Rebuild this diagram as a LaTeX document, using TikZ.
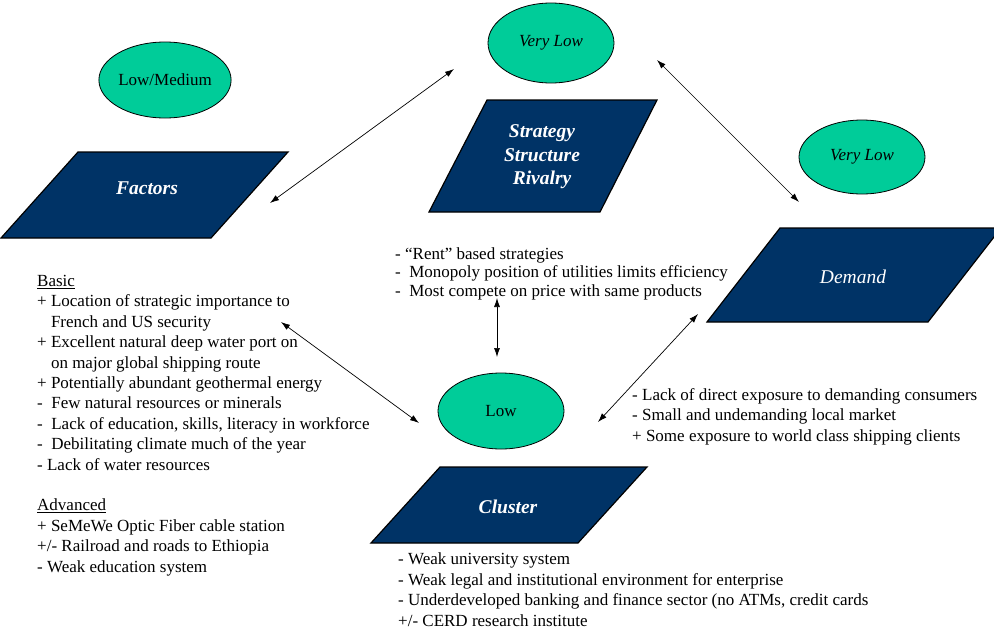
\documentclass[tikz,border=0pt]{standalone}
\usepackage{fontspec}
\setmainfont{Liberation Serif}
\usetikzlibrary{shapes.geometric,arrows.meta}
\definecolor{navy}{RGB}{0,51,102}
\definecolor{jade}{RGB}{0,204,153}

\begin{document}
\begin{tikzpicture}
      [x=1pt, y=-1pt,
       rating/.style={ellipse, draw, fill=jade, line width=0.8pt, minimum width=126pt,
         minimum height=76pt, inner sep=0pt, font=\fontsize{17}{20.4}\selectfont},
       sector/.style={draw, fill=navy, line width=1.2pt},
       heading/.style={text=white, align=center, font=\fontsize{19.5}{23.5}\selectfont\bfseries\itshape},
       points/.style={anchor=base west, align=left, inner sep=0pt, font=\fontsize{17}{20.4}\selectfont},
       link/.style={{Latex[length=9pt,width=6pt]}-{Latex[length=9pt,width=6pt]}, line width=0.7pt}]
      \useasboundingbox (0,0) rectangle (994,632);

      \draw[sector] (78,152) -- (288,152) -- (211,238) -- (1,238) -- cycle;
      \draw[sector] (487,100) -- (657,100) -- (600,212) -- (429,212) -- cycle;
      \draw[sector] (780,228) -- (1001,228) -- (928,322) -- (707,322) -- cycle;
      \draw[sector] (440,467) -- (647,467) -- (578,543) -- (371,543) -- cycle;

      \node[heading](1) at (147,188) {Factors};
      \node[heading](2) at (542,157) {Strategy\\Structure\\Rivalry};
      \node[heading, font=\fontsize{19.5}{23.5}\selectfont\itshape](3) at (853,277) {Demand};
      \node[heading](4) at (508,507) {Cluster};

      \node[rating](5) at (165,80) {Low/Medium};
      \node[rating, minimum height=80pt](6) at (551,43) {\itshape Very Low};
      \node[rating, minimum height=74pt](7) at (862,157) {\itshape Very Low};
      \node[rating](8) at (501,411) {Low};

      % text blocks sit on the baseline of their last line
      \node[points](9) at (37,572) {\underline{Basic}\\
        + Location of strategic importance to\\
        \phantom{+ }French and US security\\
        + Excellent natural deep water port on\\
        \phantom{+ }on major global shipping route\\
        + Potentially abundant geothermal energy\\
        -\ \ Few natural resources or minerals\\
        -\ \ Lack of education, skills, literacy in workforce\\
        -\ \ Debilitating climate much of the year\\
        - Lack of water resources\\[20.4pt]
        \underline{Advanced}\\
        + SeMeWe Optic Fiber cable station\\
        +/- Railroad and roads to Ethiopia\\
        - Weak education system};
      \node[points, font=\fontsize{17}{18.5}\selectfont](10) at (395,296) {- “Rent” based strategies\\
        -\ \ Monopoly position of utilities limits efficiency\\
        -\ \ Most compete on price with same products};
      \node[points](11) at (632,441) {- Lack of direct exposure to demanding consumers\\
        - Small and undemanding local market\\
        + Some exposure to world class shipping clients};
      \node[points](12) at (398,626) {- Weak university system\\
        - Weak legal and institutional environment for enterprise\\
        - Underdeveloped banking and finance sector (no ATMs, credit cards\\
        +/- CERD research institute};

      \coordinate(a) at (270,203);
      \coordinate(b) at (454,69);
      \coordinate(c) at (657,60);
      \coordinate(d) at (799,202);
      \coordinate(e) at (281,322);
      \coordinate(f) at (419,423);
      \coordinate(g) at (497,298);
      \coordinate(h) at (497,357);
      \coordinate(i) at (698,314);
      \coordinate(j) at (598,422);
      \draw[link](a) -- (b);
      \draw[link](c) -- (d);
      \draw[link](e) -- (f);
      \draw[link](g) -- (h);
      \draw[link](i) -- (j);
  \end{tikzpicture}
\end{document}
